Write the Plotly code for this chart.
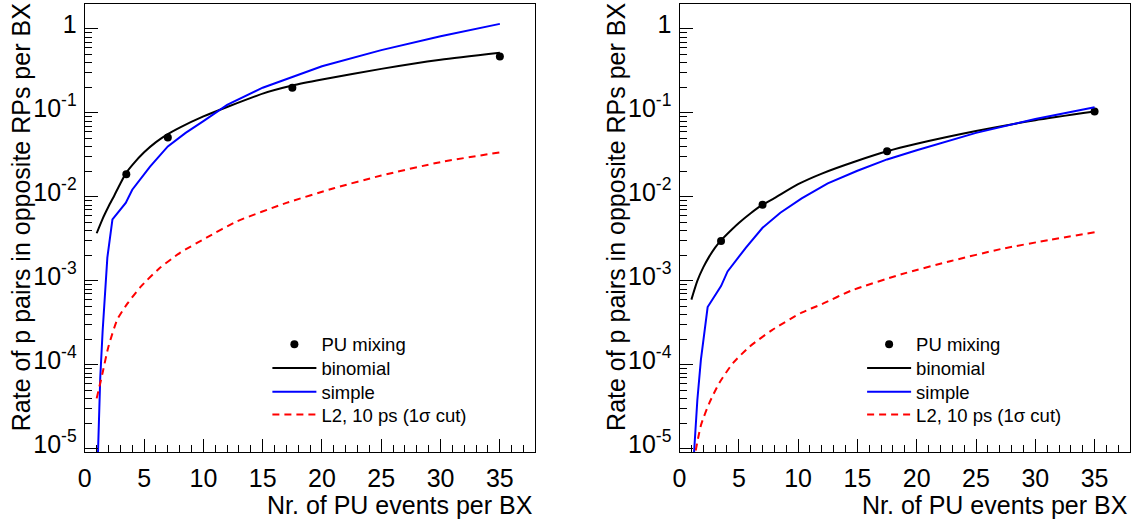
import plotly.graph_objects as go

# ---------------- data ----------------
# Left panel
L_PU_X = [3.5, 7, 17.5, 35]
L_PU_Y = [0.0187, 0.051, 0.20, 0.47]

L_BINOM_X = [1, 1.5, 2, 2.5, 3, 3.5, 4, 5, 6, 7, 8, 10, 12, 15, 17.5, 20, 25, 30, 35]
L_BINOM_Y = [0.0037, 0.0055, 0.0077, 0.0105, 0.0145, 0.0195, 0.024, 0.034, 0.045, 0.056,
             0.067, 0.091, 0.118, 0.17, 0.212, 0.25, 0.335, 0.43, 0.52]

L_SIMPLE_X = [1.1, 1.3, 1.5, 1.9, 2.33, 3.45, 4.0, 5.5, 7, 8.5, 10, 12, 15, 17.5, 20, 25, 30, 35]
L_SIMPLE_Y = [8e-6, 7e-5, 2.5e-4, 1.9e-3, 0.0054, 0.0085, 0.0122, 0.023, 0.040, 0.058,
              0.08, 0.125, 0.2, 0.27, 0.36, 0.56, 0.82, 1.15]

L_L2_X = [1, 1.5, 2, 2.75, 3.6, 4.7, 6.25, 8, 10.3, 12.8, 17, 21, 25, 30, 35]
L_L2_Y = [4e-5, 8.1e-5, 1.67e-4, 3.5e-4, 5.4e-4, 8.5e-4, 1.4e-3, 2.15e-3, 3.3e-3, 5.1e-3,
          8.5e-3, 0.0127, 0.018, 0.026, 0.034]

# Right panel
R_PU_X = [3.5, 7, 17.5, 35]
R_PU_Y = [0.003, 0.0081, 0.035, 0.104]

R_BINOM_X = [1, 1.5, 2, 2.5, 3, 3.5, 4, 5, 6, 7, 8, 10, 12, 15, 17.5, 20, 25, 30, 35]
R_BINOM_Y = [6e-4, 1.0e-3, 1.45e-3, 1.95e-3, 2.5e-3, 3.05e-3, 3.6e-3, 4.9e-3, 6.4e-3, 8.1e-3,
             9.7e-3, 0.0142, 0.019, 0.027, 0.035, 0.043, 0.061, 0.082, 0.104]

R_SIMPLE_X = [1.2, 1.5, 1.8, 2.37, 3.5, 4.05, 5.6, 7, 8.5, 10.3, 12.5, 15, 17.5, 20, 25, 30, 35]
R_SIMPLE_Y = [8e-6, 3.8e-5, 1.15e-4, 4.9e-4, 8.7e-4, 1.3e-3, 2.5e-3, 4.3e-3, 6.5e-3, 9.6e-3,
              0.0145, 0.0205, 0.028, 0.036, 0.058, 0.085, 0.117]

R_L2_X = [1.0, 1.8, 2.5, 3.35, 4.5, 5.9, 7.8, 10.3, 12, 14.5, 18.7, 22.9, 27.1, 31.3, 35]
R_L2_Y = [5e-6, 1.9e-5, 3.5e-5, 6.1e-5, 1.05e-4, 1.65e-4, 2.6e-4, 4.2e-4, 5.3e-4, 7.7e-4,
          1.2e-3, 1.73e-3, 2.4e-3, 3.1e-3, 3.8e-3]

SERIES_NAMES = ["PU mixing", "binomial", "simple", "L2, 10 ps (1σ cut)"]
X_TITLE = "Nr. of PU events per BX"
Y_TITLE = "Rate of p pairs in opposite RPs per BX"
Y_TICK_VALS = [1e-5, 1e-4, 1e-3, 1e-2, 1e-1, 1]
Y_TICK_TEXT = ["10<sup>-5</sup>", "10<sup>-4</sup>", "10<sup>-3</sup>",
               "10<sup>-2</sup>", "10<sup>-1</sup>", "1"]

# ---------------- layout constants ----------------
W, H = 1139, 522
FONT = "Liberation Sans, Arial, Helvetica, sans-serif"
PANEL_L = (78.3, 531.7)
PANEL_R = (676.7, 1130.1)
PANEL_TOP, PANEL_BOT = 4.0, 456.7


def px_x(p):
    return p / W


def px_y(p):
    return (H - p) / H


fig = go.Figure()

panels = [
    ("x", "y", L_PU_X, L_PU_Y, L_BINOM_X, L_BINOM_Y, L_SIMPLE_X, L_SIMPLE_Y, L_L2_X, L_L2_Y),
    ("x2", "y2", R_PU_X, R_PU_Y, R_BINOM_X, R_BINOM_Y, R_SIMPLE_X, R_SIMPLE_Y, R_L2_X, R_L2_Y),
]

legend_idx = 1
for xa, ya, pux, puy, bx, by, sx, sy, lx, ly in panels:
    traces = [
        go.Scatter(x=pux, y=puy, mode="markers", name=SERIES_NAMES[0],
                   marker=dict(color="black", size=8, symbol="circle")),
        go.Scatter(x=bx, y=by, mode="lines", name=SERIES_NAMES[1],
                   line=dict(color="black", width=2, shape="spline", smoothing=0.6)),
        go.Scatter(x=sx, y=sy, mode="lines", name=SERIES_NAMES[2],
                   line=dict(color="#0000ff", width=2)),
        go.Scatter(x=lx, y=ly, mode="lines", name=SERIES_NAMES[3],
                   line=dict(color="#ff0000", width=2, dash="7px,5px",
                             shape="spline", smoothing=0.6)),
    ]
    for t in traces:
        t.update(xaxis=xa, yaxis=ya, showlegend=True,
                 legend="legend" if legend_idx == 1 else f"legend{legend_idx}")
        fig.add_trace(t)
        legend_idx += 1

# one legend box per entry so rows sit at fixed heights
LEGEND_ROWS_Y = [348, 372, 396, 419]
legend_layout = {}
idx = 1
for left_edge in (PANEL_L[0], PANEL_R[0]):
    x0 = left_edge + (262 - 78.3)
    for row_y in LEGEND_ROWS_Y:
        key = "legend" if idx == 1 else f"legend{idx}"
        legend_layout[key] = dict(
            x=px_x(x0), y=px_y(row_y), xanchor="left", yanchor="middle",
            bgcolor="rgba(0,0,0,0)", borderwidth=0, itemwidth=44,
            font=dict(family=FONT, size=18.5, color="black"),
        )
        idx += 1

axis_common = dict(
    showline=True, linecolor="black", linewidth=1.3, mirror=True,
    showgrid=False, zeroline=False,
    ticks="inside", tickcolor="black", tickwidth=1,
    tickfont=dict(family=FONT, size=25, color="black"),
)

xaxis_cfg = dict(axis_common, range=[0, 38], tickmode="linear", tick0=0, dtick=5, ticklen=13,
                 ticklabelstandoff=4,
                 minor=dict(ticks="inside", ticklen=7, tickcolor="black", tickwidth=1,
                            tickmode="linear", tick0=0, dtick=1))

minor_vals = [k * 10.0 ** e for e in range(-6, 1) for k in range(2, 10)]
yaxis_cfg = dict(axis_common, type="log", range=[-5.04, 0.298], tickmode="array",
                 tickvals=Y_TICK_VALS, ticktext=Y_TICK_TEXT, ticklen=13,
                 ticklabelshift=-5, ticklabelstandoff=2,
                 minor=dict(ticks="inside", ticklen=7, tickcolor="black", tickwidth=1,
                            tickmode="array", tickvals=minor_vals))

annotations = []
for left_edge, right_edge in (PANEL_L, PANEL_R):
    annotations.append(dict(
        text=X_TITLE, xref="paper", yref="paper",
        x=px_x(right_edge), y=px_y(510), xanchor="right", yanchor="middle",
        showarrow=False, font=dict(family=FONT, size=25, color="black")))
    annotations.append(dict(
        text=Y_TITLE, xref="paper", yref="paper", textangle=-90,
        x=px_x(left_edge - 64), y=px_y(1), xanchor="center", yanchor="top",
        showarrow=False, font=dict(family=FONT, size=25, color="black")))

fig.update_layout(
    width=W, height=H,
    margin=dict(l=0, r=0, t=0, b=0),
    paper_bgcolor="white", plot_bgcolor="white",
    font=dict(family=FONT, color="black"),
    xaxis=dict(xaxis_cfg, domain=[px_x(PANEL_L[0]), px_x(PANEL_L[1])], anchor="y"),
    yaxis=dict(yaxis_cfg, domain=[px_y(PANEL_BOT), px_y(PANEL_TOP)], anchor="x"),
    xaxis2=dict(xaxis_cfg, domain=[px_x(PANEL_R[0]), px_x(PANEL_R[1])], anchor="y2"),
    yaxis2=dict(yaxis_cfg, domain=[px_y(PANEL_BOT), px_y(PANEL_TOP)], anchor="x2"),
    annotations=annotations,
    **legend_layout,
)

fig.write_html("out.html")
